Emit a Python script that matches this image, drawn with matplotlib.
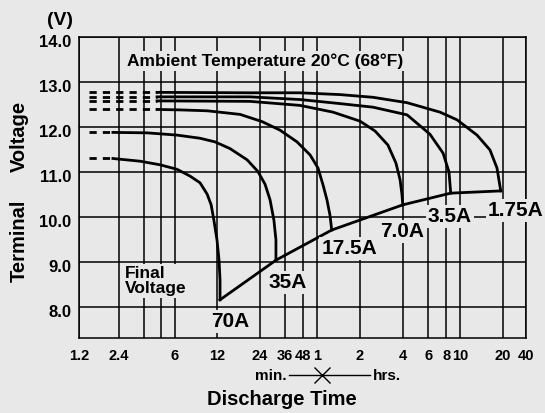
import numpy as np
import matplotlib
matplotlib.use("Agg")
import matplotlib.pyplot as plt
import matplotlib.transforms as mtransforms
from matplotlib.lines import Line2D
from matplotlib.ticker import FixedLocator, FixedFormatter, NullLocator

plt.rcParams['font.family'] = ['Liberation Sans', 'DejaVu Sans']
plt.rcParams['font.weight'] = 'bold'

BG = "#e8e8e8"

# ---------------- data (time in minutes, voltage in V) ----------------
curve_names = ["70A", "35A", "17.5A", "7.0A", "3.5A", "1.75A"]

t_70A = [2.16, 3.39, 4.71, 6.22, 7.70, 9.08, 10.2, 10.9, 11.4, 12.0, 12.4, 12.6, 12.6]
v_70A = [11.30, 11.24, 11.16, 11.06, 10.91, 10.76, 10.51, 10.27, 9.93, 9.49, 9.04, 8.60, 8.16]

t_35A = [2.16, 3.80, 6.22, 9.08, 11.6, 14.8, 19.5, 23.2, 26.0, 28.2, 30.0, 31.0, 31.0]
v_35A = [11.88, 11.87, 11.82, 11.75, 11.67, 11.52, 11.27, 11.01, 10.73, 10.38, 9.93, 9.49, 9.04]

t_17A = [4.48, 6.54, 10.2, 17.4, 24.8, 33.1, 43.5, 53.7, 61.0, 66.2, 70.5, 74.0, 76.1]
v_17A = [12.39, 12.38, 12.36, 12.28, 12.12, 11.93, 11.67, 11.38, 11.09, 10.71, 10.38, 10.04, 9.71]

t_7A = [4.48, 20.4, 45.7, 77.7, 120, 153, 188, 214, 229, 236, 239]
v_7A = [12.58, 12.57, 12.48, 12.33, 12.13, 11.91, 11.60, 11.20, 10.82, 10.49, 10.27]

t_3A = [4.48, 20.4, 45.7, 87.0, 148, 256, 370, 457, 503, 517]
v_3A = [12.67, 12.67, 12.61, 12.52, 12.44, 12.27, 11.84, 11.42, 11.00, 10.53]

t_1A = [4.48, 20.4, 45.7, 87.0, 148, 256, 435, 572, 790, 973, 1089, 1157]
v_1A = [12.77, 12.76, 12.76, 12.72, 12.66, 12.54, 12.33, 12.16, 11.82, 11.49, 11.09, 10.58]

final_t = [12.6, 31.0, 76.1, 239, 517, 1157]
final_v = [8.16, 9.04, 9.71, 10.27, 10.53, 10.58]

lead_start = 1.43  # start of dashed lead-in (min)

x_ticks = [1.2, 2.4, 3.6, 4.8, 6, 12, 24, 36, 48, 60, 120, 240, 360, 480, 600, 1200, 2400]
x_tick_labels = ["1.2", "2.4", "", "", "6", "12", "24", "36", "48", "1", "2", "4",
                 "6", "8", "10", "20", "40"]
y_ticks = [8, 9, 10, 11, 12, 13, 14]
y_tick_labels = ["8.0", "9.0", "10.0", "11.0", "12.0", "13.0", "14.0"]

# label anchor positions (min, V)
label_t = [14.9, 37.3, 101, 235, 511, 1765]
label_v = [7.56, 8.415, 9.18, 9.56, 9.88, 10.02]

# ---------------- custom time scale (as printed chart) ----------------
SCALE_LOG = np.log10([0.12, 1.2, 2.4, 12, 1200, 2400, 24000])
SCALE_POS = np.array([-133.0, 0.0, 40.0, 138.0, 424.0, 447.0, 523.0])


def fwd(x):
    x = np.asarray(x, float)
    lx = np.log10(np.where(x > 0, x, 1e-6))
    return np.interp(lx, SCALE_LOG, SCALE_POS)


def inv(p):
    return 10 ** np.interp(np.asarray(p, float), SCALE_POS, SCALE_LOG)


fig = plt.figure(figsize=(5.45, 4.13), dpi=100, facecolor=BG)
ax = fig.add_axes([79 / 545, 75 / 413, 447 / 545, 301 / 413], facecolor=BG)
ax.set_xscale('function', functions=(fwd, inv))
ax.set_xlim(1.2, 2400)
ax.set_ylim(7.311, 14.0)

ax.xaxis.set_major_locator(FixedLocator(x_ticks))
ax.xaxis.set_major_formatter(FixedFormatter(x_tick_labels))
ax.xaxis.set_minor_locator(NullLocator())
ax.yaxis.set_major_locator(FixedLocator(y_ticks))
ax.yaxis.set_major_formatter(FixedFormatter(y_tick_labels))
ax.yaxis.set_minor_locator(NullLocator())
ax.tick_params(axis='both', length=0)
ax.tick_params(axis='x', pad=8.2, labelsize=10.5)
ax.tick_params(axis='y', pad=5.5, labelsize=12)
offset = mtransforms.ScaledTranslation(0, -0.038, fig.dpi_scale_trans)
for lbl in ax.get_yticklabels():
    lbl.set_transform(lbl.get_transform() + offset)

ax.set_axisbelow(True)
ax.grid(True, color='black', linewidth=1.1)
for sp in ax.spines.values():
    sp.set_linewidth(1.1)
    sp.set_color('black')

series_t = [t_70A, t_35A, t_17A, t_7A, t_3A, t_1A]
series_v = [v_70A, v_35A, v_17A, v_7A, v_3A, v_1A]
for t, v in zip(series_t, series_v):
    ax.plot(t, v, color='black', lw=2.0, solid_joinstyle='round', zorder=3)
    ax.plot([lead_start, t[0]], [v[0], v[0]], color='black', lw=2.0,
            linestyle=(0, (2.6, 2.2)), zorder=3)
ax.plot(final_t, final_v, color='black', lw=2.0, zorder=3)

for name, lt, lv in zip(curve_names, label_t, label_v):
    ax.text(lt, lv, name, ha='center', va='baseline', fontsize=15, fontweight='bold',
            bbox=dict(boxstyle='square,pad=0.1', fc=BG, ec='none'), zorder=5, clip_on=False)

ax.text((265 - 79) / 447, (338 - 65.7) / 301, "Ambient Temperature 20°C (68°F)",
        transform=ax.transAxes, ha='center', va='baseline', fontsize=12.5, fontweight='bold',
        bbox=dict(boxstyle='square,pad=0.15', fc=BG, ec='none'), zorder=5)

ax.text((125 - 79) / 447, (338 - 265.5) / 301, "Final\nVoltage",
        transform=ax.transAxes, ha='left', va='top', fontsize=12.5, fontweight='bold',
        linespacing=1.05, bbox=dict(boxstyle='square,pad=0.1', fc=BG, ec='none'), zorder=5)

fig.text(25 / 545, 1 - 241 / 413, "Terminal", rotation=90, rotation_mode='anchor',
         ha='center', va='baseline', fontsize=14.5, fontweight='bold')
fig.text(25 / 545, 1 - 136 / 413, "Voltage", rotation=90, rotation_mode='anchor',
         ha='center', va='baseline', fontsize=14.5, fontweight='bold')
fig.text(60.3 / 545, 1 - 25 / 413, "(V)", ha='center', va='baseline', fontsize=14,
         fontweight='bold')
fig.text(282 / 545, 1 - 405 / 413, "Discharge Time", ha='center', va='baseline',
         fontsize=14.5, fontweight='bold')

fig.text(287 / 545, 1 - 380 / 413, "min.", ha='right', va='baseline', fontsize=11,
         fontweight='bold')
fig.text(373 / 545, 1 - 380 / 413, "hrs.", ha='left', va='baseline', fontsize=11,
         fontweight='bold')
fig.add_artist(Line2D([289 / 545, 370 / 545], [1 - 375 / 413, 1 - 375 / 413],
                      transform=fig.transFigure, color='black', lw=1.0))
fig.add_artist(Line2D([321.7 / 545], [1 - 375 / 413], marker='x', markersize=12,
                      markeredgewidth=1.0, color='black', linestyle='none',
                      transform=fig.transFigure))

fig.savefig("out.png", dpi=100, facecolor=BG)
